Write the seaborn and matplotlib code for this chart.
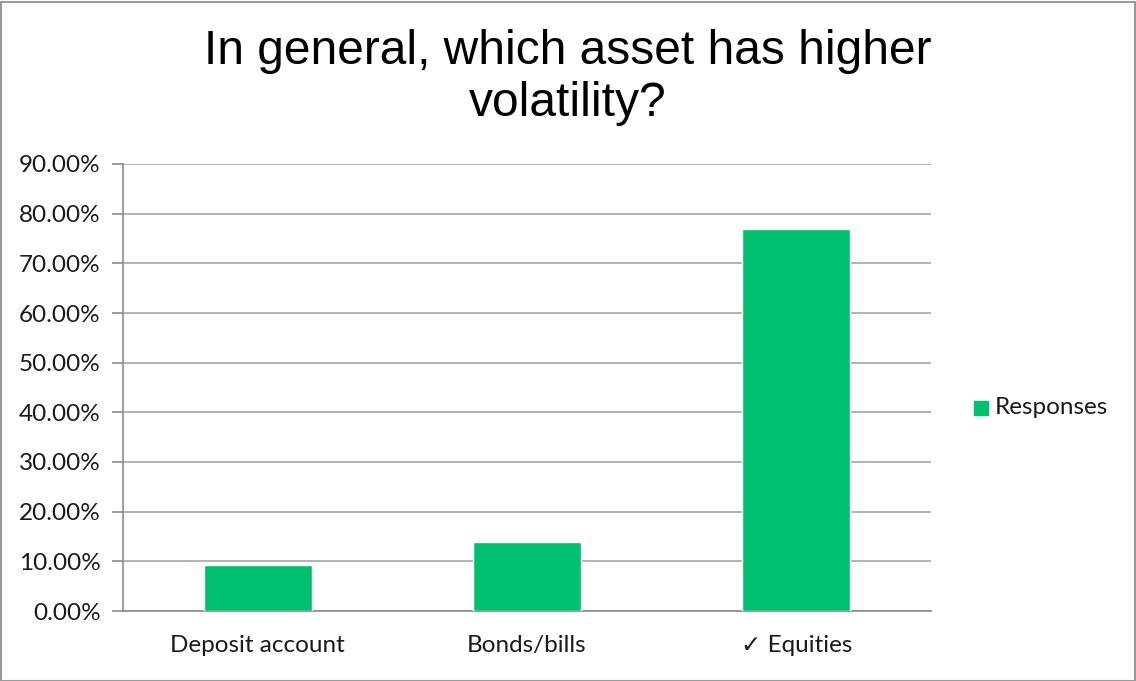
import matplotlib
matplotlib.use("Agg")
import matplotlib.pyplot as plt
import matplotlib.ticker as mticker
from matplotlib.patches import Rectangle
import seaborn as sns
import pandas as pd

categories = ["Deposit account", "Bonds/bills", "\u2713 Equities"]
responses = [9.23, 13.85, 76.92]
series_name = "Responses"
title = "In general, which asset has higher\nvolatility?"
yticks = [0, 10, 20, 30, 40, 50, 60, 70, 80, 90]

df = pd.DataFrame({"category": categories, "value": responses})

sns.set_theme(style="white")
plt.rcParams["font.family"] = ["Lato", "DejaVu Sans"]

bar_color = "#00BF6F"
axis_gray = "#8C8C8C"
grid_gray = "#A6A6A6"
label_size = 17.5

fig = plt.figure(figsize=(11.36, 6.81), dpi=100)
ax = fig.add_axes([123 / 1136, 1 - 611 / 681, 808 / 1136, 447 / 681])

sns.barplot(data=df, x="category", y="value", color=bar_color, width=0.4,
            saturation=1, ax=ax, zorder=3)

ax.set_ylim(0, 90)
ax.set_xlim(-0.5, len(categories) - 0.5)
ax.set_yticks(yticks)
ax.yaxis.set_major_formatter(mticker.FuncFormatter(lambda v, p: f"{v:.2f}%"))
ax.set_xlabel("")
ax.set_ylabel("")

# horizontal gridlines
ax.grid(axis="y", color=grid_gray, linewidth=1.2, zorder=0)
ax.set_axisbelow(True)

# x ticks sit on category boundaries
ax.set_xticks([i for i in range(len(categories))])
ax.set_xticks([i - 0.5 for i in range(len(categories) + 1)], minor=True)
ax.tick_params(axis="x", which="major", length=0, pad=17, labelsize=label_size,
               labelcolor="#1a1a1a")
ax.tick_params(axis="x", which="minor", length=8, width=1.2, color=axis_gray,
               direction="out")
ax.tick_params(axis="y", length=8, width=1.2, color=axis_gray, pad=8,
               labelsize=label_size, labelcolor="#1a1a1a", left=True)

for side in ["top", "right"]:
    ax.spines[side].set_visible(False)
for side in ["left", "bottom"]:
    ax.spines[side].set_color(axis_gray)
    ax.spines[side].set_linewidth(1.2)

fig.text(0.5, 1 - 77 / 681, title, ha="center", va="center",
         fontsize=34.5, family=["Liberation Sans", "DejaVu Sans"],
         color="#000000", linespacing=1.2)

# legend
leg_ax_x = 974 / 1136
leg_y = 1 - 408 / 681
fig.patches.append(Rectangle((leg_ax_x, leg_y - 6.5 / 681), 14 / 1136, 14 / 681,
                             transform=fig.transFigure, color=bar_color))
fig.text(995 / 1136, leg_y, series_name, ha="left", va="center",
         fontsize=label_size, color="#1a1a1a")

# chart border
fig.patches.append(Rectangle((0.5 / 1136, 0.5 / 681), 1 - 2 / 1136, 1 - 2 / 681,
                             transform=fig.transFigure, fill=False,
                             edgecolor="#9A9A9A", linewidth=1.5))

fig.savefig("out.png", dpi=100)
